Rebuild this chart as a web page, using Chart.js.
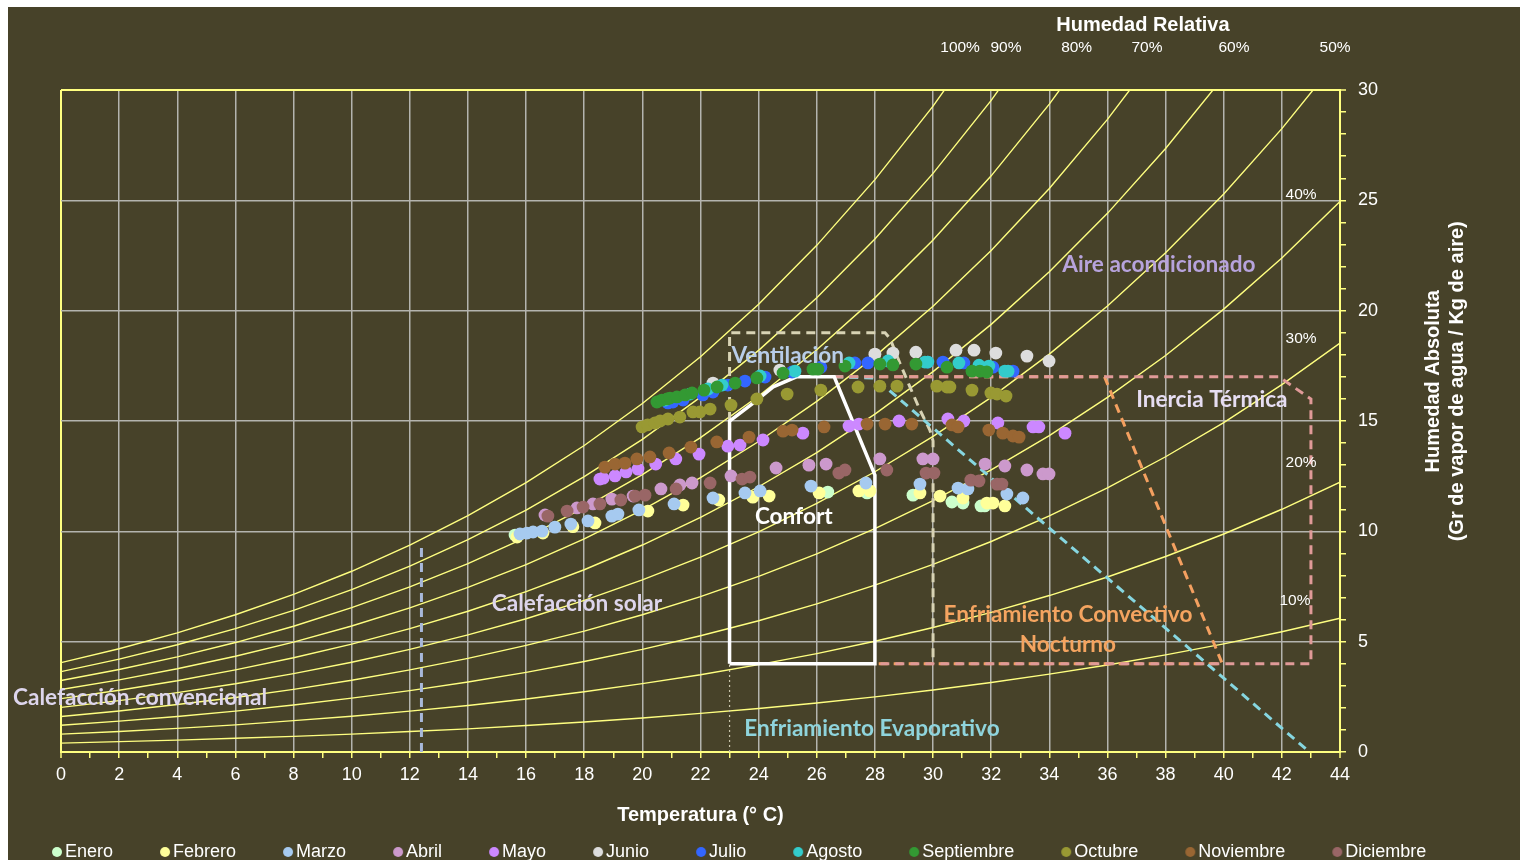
<!DOCTYPE html>
<html><head><meta charset="utf-8">
<script src="https://cdn.jsdelivr.net/npm/chart.js@4.4.1/dist/chart.umd.min.js"></script>
<style>html,body{margin:0;padding:0;background:#fff;}#wrap{width:1520px;height:860px;}canvas{display:block;}</style>
</head><body><div id="wrap"><canvas id="c" width="1520" height="860"></canvas></div>
<script>
// ---------- DATA ----------
const months = ['Enero','Febrero','Marzo','Abril','Mayo','Junio','Julio','Agosto','Septiembre','Octubre','Noviembre','Diciembre'];
const monthColors = ['#ccffcc','#ffff99','#a6caf0','#cc99cc','#cc88ff','#dddddd','#3366ff','#33cccc','#339933','#999933','#996633','#996666'];

const xTicks = [0,2,4,6,8,10,12,14,16,18,20,22,24,26,28,30,32,34,36,38,40,42,44];
const yTicks = [0,5,10,15,20,25,30];

// relative humidity curves (g/kg) at temperatures 0,2,4,...
const rhTemps = [0,2,4,6,8,10,12,14,16,18,20,22,24,26,28,30,32,34,36,38,40,42,44];
const rh100 = [4.05,4.68,5.40,6.22,7.14,8.19,9.37,10.71,12.21,13.89,15.79,17.91,20.29,22.96,25.94,29.27,32.99];
const rh90  = [3.64,4.21,4.86,5.59,6.42,7.36,8.42,9.62,10.96,12.48,14.17,16.08,18.20,20.59,23.25,26.22,29.53,33.23];
const rh80  = [3.24,3.74,4.31,4.96,5.70,6.54,7.48,8.54,9.73,11.07,12.57,14.25,16.13,18.23,20.58,23.20,26.11,29.36,32.98];
const rh70  = [2.83,3.27,3.77,4.34,4.98,5.71,6.53,7.46,8.49,9.66,10.97,12.43,14.07,15.89,17.93,20.20,22.73,25.54,28.67,32.14];
const rh60  = [2.42,2.80,3.23,3.72,4.27,4.89,5.59,6.38,7.27,8.26,9.38,10.63,12.02,13.57,15.31,17.24,19.38,21.76,24.41,27.35,30.60];
const rh50  = [2.02,2.33,2.69,3.09,3.55,4.07,4.65,5.31,6.04,6.87,7.80,8.83,9.98,11.27,12.70,14.30,16.07,18.03,20.21,22.62,25.29,28.25,31.51];
const rh40  = [1.61,1.86,2.15,2.47,2.84,3.25,3.72,4.24,4.83,5.48,6.22,7.04,7.96,8.98,10.12,11.39,12.79,14.34,16.07,17.97,20.07,22.39,24.95];
const rh30  = [1.21,1.40,1.61,1.85,2.13,2.44,2.78,3.17,3.61,4.10,4.65,5.27,5.95,6.71,7.56,8.50,9.54,10.70,11.97,13.38,14.93,16.65,18.53];
const rh20  = [0.81,0.93,1.07,1.23,1.42,1.62,1.85,2.11,2.40,2.73,3.10,3.50,3.96,4.46,5.02,5.64,6.33,7.09,7.93,8.86,9.88,11.00,12.23];
const rh10  = [0.40,0.47,0.54,0.62,0.71,0.81,0.93,1.05,1.20,1.36,1.54,1.75,1.97,2.22,2.50,2.81,3.15,3.53,3.94,4.40,4.90,5.45,6.06];
const rhCurves = [rh100,rh90,rh80,rh70,rh60,rh50,rh40,rh30,rh20,rh10];

// monthly points [temperature °C, absolute humidity g/kg]
const enero = [[15.62,9.83],[26.38,11.78],[27.73,11.74],[29.31,11.64],[30.65,11.33],[31.03,11.28],[31.65,11.15],[31.78,11.15]];
const febrero = [[15.69,9.74],[16.58,9.92],[17.61,10.21],[18.37,10.38],[20.19,10.92],[21.40,11.19],[22.63,11.42],[23.80,11.55],[24.36,11.60],[26.08,11.74],[27.45,11.83],[27.83,11.83],[29.55,11.74],[30.24,11.60],[31.03,11.51],[31.85,11.28],[32.06,11.28],[32.47,11.15]];
const marzo = [[15.79,9.88],[16.03,9.92],[16.24,9.97],[16.55,10.01],[16.99,10.19],[17.54,10.33],[18.13,10.47],[18.95,10.69],[19.16,10.78],[19.88,10.97],[21.09,11.24],[22.43,11.51],[23.53,11.74],[24.05,11.83],[25.80,12.05],[27.69,12.19],[29.55,12.14],[30.86,11.96],[31.20,11.92],[32.54,11.69],[33.09,11.51]];
const abril = [[16.65,10.74],[17.75,11.06],[18.30,11.24],[18.95,11.46],[19.68,11.60],[20.64,11.92],[21.29,12.10],[21.71,12.19],[23.05,12.51],[24.60,12.87],[25.73,13.00],[26.32,13.05],[28.17,13.28],[29.65,13.28],[30.00,13.28],[31.79,13.05],[32.47,12.96],[33.23,12.78],[33.78,12.60],[33.99,12.60]];
const mayo = [[18.54,12.37],[18.65,12.41],[19.06,12.51],[19.44,12.69],[19.85,12.82],[20.46,13.05],[21.15,13.28],[21.95,13.50],[22.94,13.86],[23.36,13.91],[24.15,14.14],[25.52,14.45],[27.11,14.77],[27.45,14.86],[28.83,15.00],[30.51,15.09],[31.06,15.00],[32.23,14.91],[33.44,14.73],[33.64,14.73],[34.54,14.45]];
const junio = [[22.43,16.72],[24.73,17.31],[28.00,18.03],[28.62,18.08],[29.41,18.12],[30.79,18.21],[31.41,18.21],[32.16,18.08],[33.23,17.94],[33.99,17.72]];
const julio = [[20.88,15.82],[21.05,15.86],[21.40,15.95],[22.08,16.18],[22.43,16.31],[22.94,16.63],[23.53,16.81],[24.22,16.99],[25.15,17.22],[26.14,17.44],[27.31,17.63],[27.76,17.63],[29.82,17.67],[30.34,17.67],[31.06,17.63],[32.06,17.44],[32.75,17.26]];
const agosto = [[20.78,15.95],[21.64,16.22],[22.26,16.45],[22.74,16.63],[24.05,17.04],[25.25,17.26],[27.11,17.63],[28.45,17.72],[29.72,17.67],[29.82,17.67],[30.89,17.63],[31.58,17.53],[31.92,17.49],[32.47,17.26],[32.58,17.26]];
const septiembre = [[20.50,15.86],[20.67,15.95],[20.85,16.00],[20.95,16.04],[21.19,16.09],[21.47,16.18],[21.71,16.27],[22.12,16.40],[22.57,16.54],[23.19,16.72],[23.94,16.95],[24.84,17.17],[25.87,17.35],[26.04,17.35],[26.97,17.49],[28.17,17.58],[28.62,17.54],[29.41,17.58],[30.48,17.44],[31.34,17.26],[31.61,17.26],[31.85,17.22]];
const octubre = [[19.99,14.73],[20.18,14.82],[20.43,14.91],[20.61,15.00],[20.88,15.09],[21.29,15.18],[21.74,15.41],[21.98,15.41],[22.33,15.54],[23.05,15.72],[23.94,16.00],[24.98,16.22],[26.14,16.40],[27.42,16.54],[28.17,16.58],[28.76,16.58],[30.13,16.58],[30.48,16.54],[30.58,16.54],[31.34,16.40],[31.99,16.27],[32.20,16.22],[32.51,16.13]];
const noviembre = [[18.71,12.91],[19.06,13.05],[19.40,13.09],[19.81,13.28],[20.26,13.37],[20.92,13.55],[21.67,13.82],[22.56,14.05],[23.67,14.27],[24.84,14.54],[25.15,14.59],[26.25,14.73],[27.73,14.86],[28.35,14.86],[29.27,14.86],[30.65,14.82],[30.86,14.73],[31.92,14.59],[32.40,14.45],[32.75,14.32],[32.96,14.27]];
const diciembre = [[16.75,10.69],[17.41,10.92],[17.96,11.10],[18.54,11.24],[19.26,11.42],[19.75,11.60],[20.09,11.64],[21.16,11.92],[22.33,12.19],[23.43,12.37],[23.70,12.46],[26.76,12.64],[26.97,12.78],[28.41,12.78],[29.76,12.64],[30.03,12.64],[31.30,12.32],[31.58,12.28],[32.20,12.14],[32.37,12.14]];
const monthData = [enero,febrero,marzo,abril,mayo,junio,julio,agosto,septiembre,octubre,noviembre,diciembre];

// zone outlines [temperature, humidity]
const confortZone = [[23,4],[23,15],[23.8,15.8],[24.5,16.55],[25.3,17],[26.6,17],[28,12.55],[28,4],[23,4]];
const ventilacionZone = [[23,15],[23,19],[28.35,19],[28.52,18.74],[28.86,17.62],[29.2,16.56],[29.55,15.5],[29.89,14.59],[30,14.1],[30,4]];
const inerciaZone = [[26.6,17],[41.9,17],[43,16],[43,4],[28,4]];
const convectivoZone = [[26.6,17],[35.9,17],[39.95,4],[28,4]];
const evaporativoZone = [[26.6,17],[28,16.95],[42.95,0]];
const evapLeftEdge = [[23,0],[23,4]];
const solarEdge = [[12.4,0],[12.4,9.3]];

// ---------- STYLE ----------
const BG = '#474229';
const YELLOW = '#ffff80';
const GRID = '#b4b4ae';
const FONT = "'Liberation Sans', Arial, sans-serif";
const LABEL_FONT = "Lato, 'Open Sans', sans-serif";

const textNotes = [
  {text:'Aire acondicionado', t:37.77, w:22.07, color:'#b7a3dc'},
  {text:'Inercia Térmica', t:39.59, w:15.95, color:'#e6ddf2'},
  {text:'Ventilación', t:25.0, w:17.94, color:'#b8cde8'},
  {text:'Confort', t:25.21, w:10.65, color:'#ffffff'},
  {text:'Calefacción solar', t:17.75, w:6.71, color:'#ddd5ec'},
  {text:'Calefacción convencional', t:2.72, w:2.45, color:'#ddd5ec'},
  {text:'Enfriamiento Convectivo', t:34.64, w:6.21, color:'#f4a460'},
  {text:'Nocturno', t:34.64, w:4.85, color:'#f4a460'},
  {text:'Enfriamiento Evaporativo', t:27.9, w:1.04, color:'#8fd4dc'}
];
const rhNotes = [
  {text:'100%', t:30.93, w:31.9},{text:'90%', t:32.51, w:31.9},{text:'80%', t:34.94, w:31.9},
  {text:'70%', t:37.36, w:31.9},{text:'60%', t:40.35, w:31.9},{text:'50%', t:43.83, w:31.9},
  {text:'40%', t:42.66, w:25.24},{text:'30%', t:42.66, w:18.71},{text:'20%', t:42.66, w:13.09},{text:'10%', t:42.45, w:6.84}
];

const toXY = arr => arr.map(p => ({x:p[0], y:p[1]}));

const datasets = [];
monthData.forEach((d,i) => datasets.push({
  label: months[i], data: toXY(d), backgroundColor: monthColors[i], borderColor: monthColors[i],
  pointRadius: 6.4, pointHoverRadius: 6.4, pointBorderWidth: 0, showLine: false, order: 12 - i
}));
function zone(data, color, width, dash){
  return {label:'', data: toXY(data), showLine:true, borderColor:color, borderWidth:width, borderDash:dash,
    pointRadius:0, pointHoverRadius:0, fill:false, tension:0, order:50};
}
datasets.push(zone(confortZone,'#ffffff',3.5,[]));
datasets.push(zone(evapLeftEdge,'#c8c4aa',1.2,[2,3]));
datasets.push(zone(solarEdge,'#a8b8da',3,[9,6]));
datasets.push(zone(inerciaZone,'#e09a98',3,[9,6]));
datasets.push(zone(evaporativoZone,'#86d6e0',3,[9,6]));
datasets.push(zone(convectivoZone,'#f4a060',3,[9,6]));
datasets.push(zone(ventilacionZone,'#d8d3b4',3,[9,6]));
rhCurves.forEach(c => datasets.push({
  label:'', data: c.map((w,i)=>({x:rhTemps[i], y:w})), showLine:true, borderColor:YELLOW, borderWidth:1.4,
  pointRadius:0, pointHoverRadius:0, tension:0, order:100
}));

function dotCanvas(color){
  const c = document.createElement('canvas'); c.width = 60; c.height = 12;
  const g = c.getContext('2d'); g.fillStyle = color; g.beginPath(); g.arc(54,6,5,0,Math.PI*2); g.fill();
  return c;
}

const bgPlugin = { id:'bg', beforeDraw(chart){
  const c = chart.ctx; c.save(); c.fillStyle = '#ffffff'; c.fillRect(0,0,chart.width,chart.height);
  c.fillStyle = BG; c.fillRect(8,7,chart.width-8,chart.height-7); c.restore(); } };

const legendPlace = { id:'legendPlace', afterLayout(chart){
  const l = chart.legend; if (!l || !l.lineWidths) return;
  const pad = l.options.labels.padding;
  const x0 = (l.left + pad + l.right - l.lineWidths[0]) / 2;
  const dx = 10 - x0; l.left += dx; l.right += dx;
  const h = l.bottom - l.top; l.top = 838; l.bottom = 838 + h; } };

const notesPlugin = { id:'notes', afterDatasetsDraw(chart){
  const c = chart.ctx, xs = chart.scales.x, ys = chart.scales.y;
  c.save(); c.textAlign = 'center'; c.textBaseline = 'middle';
  c.font = "bold 22.6px " + LABEL_FONT;
  textNotes.forEach(n => { c.fillStyle = n.color; c.fillText(n.text, xs.getPixelForValue(n.t), ys.getPixelForValue(n.w)); });
  c.font = "15.5px " + FONT; c.fillStyle = '#ffffff';
  rhNotes.forEach(n => c.fillText(n.text, xs.getPixelForValue(n.t), ys.getPixelForValue(n.w)));
  c.font = "bold 20px " + FONT;
  c.fillText('Humedad Relativa', xs.getPixelForValue(37.22), ys.getPixelForValue(32.94));
  // right axis title, reading bottom to top
  const cy = ys.getPixelForValue(16.8);
  [['Humedad Absoluta', ys.left + 93], ['(Gr de vapor de agua / Kg de aire)', ys.left + 117]].forEach(([t,x]) => {
    c.save(); c.translate(x, cy); c.rotate(-Math.PI/2); c.fillText(t, 0, 0); c.restore();
  });
  c.restore(); } };

new Chart(document.getElementById('c'), {
  type: 'scatter',
  data: { datasets },
  plugins: [bgPlugin, legendPlace, notesPlugin],
  options: {
    responsive: false, animation: false, devicePixelRatio: 1,
    layout: { padding: { left: 0, right: 0, top: 90, bottom: 0 } },
    plugins: {
      tooltip: { enabled: false },
      legend: {
        position: 'bottom',
        labels: {
          usePointStyle: true, pointStyleWidth: 46, boxHeight: 10, padding: 5,
          color: '#ffffff', font: { family: FONT, size: 18 },
          filter: it => it.datasetIndex < 12,
          sort: (a,b) => a.datasetIndex - b.datasetIndex,
          generateLabels(chart){
            const items = Chart.defaults.plugins.legend.labels.generateLabels(chart);
            items.forEach(it => { if (it.datasetIndex < 12) it.pointStyle = dotCanvas(monthColors[it.datasetIndex]); });
            return items;
          }
        }
      }
    },
    scales: {
      x: {
        type: 'linear', position: 'bottom', min: 0, max: 44,
        afterBuildTicks: s => { s.ticks = []; for (let v = 0; v <= 44; v++) s.ticks.push({value: v}); },
        afterFit: s => { s.height = 75; },
        ticks: { color: '#ffffff', font: { family: FONT, size: 18 }, padding: 6, maxRotation: 0, autoSkip: false,
          callback: v => xTicks.includes(v) ? String(v) : '' },
        grid: { color: ctx => { const v = ctx.tick && ctx.tick.value; return (v === 0 || v === 44) ? YELLOW : (xTicks.includes(v) ? GRID : 'rgba(0,0,0,0)'); },
          lineWidth: ctx => { const v = ctx.tick && ctx.tick.value; return (v === 0 || v === 44) ? 2 : 1.5; },
          tickColor: YELLOW, tickLength: 6, tickWidth: 1.5 },
        border: { color: YELLOW, width: 2 },
        title: { display: true, text: 'Temperatura (° C)', color: '#ffffff', font: { family: FONT, size: 20, weight: 'bold' }, padding: { top: 0, bottom: 0 } }
      },
      yLeft: {
        type: 'linear', position: 'left', min: 0, max: 30, display: true,
        afterFit: s => { s.width = 61; },
        ticks: { display: false }, grid: { display: false, drawTicks: false }, border: { display: false }
      },
      y: {
        type: 'linear', position: 'right', min: 0, max: 30,
        afterBuildTicks: s => { s.ticks = []; for (let v = 0; v <= 30; v++) s.ticks.push({value: v}); },
        afterFit: s => { s.width = 180; },
        ticks: { color: '#ffffff', font: { family: FONT, size: 18 }, padding: 12, autoSkip: false,
          callback: v => yTicks.includes(v) ? String(v) : '' },
        grid: { color: ctx => { const v = ctx.tick && ctx.tick.value; return v === 30 ? YELLOW : (yTicks.includes(v) ? GRID : 'rgba(0,0,0,0)'); },
          lineWidth: ctx => { const v = ctx.tick && ctx.tick.value; return v === 30 ? 2 : 1.5; },
          tickColor: YELLOW, tickLength: 6, tickWidth: 1.5 },
        border: { color: YELLOW, width: 2 }
      }
    }
  }
});
</script></body></html>
